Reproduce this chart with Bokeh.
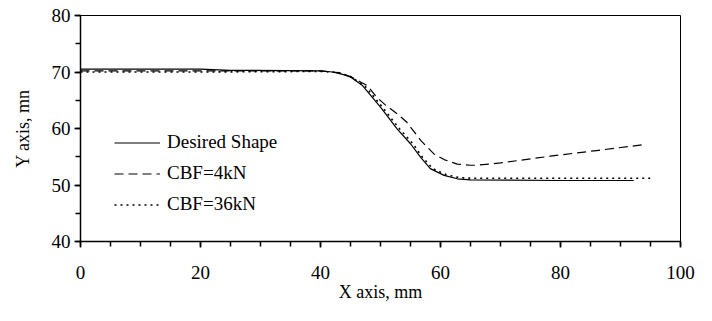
from bokeh.plotting import figure
from bokeh.models import Range1d, FixedTicker, Legend, LegendItem
from bokeh.embed import file_html
from bokeh.resources import INLINE

# ---- data ----
desired_x = [0, 20, 25, 40, 42, 44, 45, 47, 50, 52.8, 55, 56.7, 58.3, 60.6, 62.8, 65, 80, 92.2]
desired_y = [70.5, 70.5, 70.3, 70.2, 70.0, 69.5, 69.1, 67.6, 63.8, 59.9, 57.3, 54.9, 52.9, 51.7, 51.1, 50.9, 50.8, 50.8]

cbf4_x = [0, 20, 40, 43, 45, 47.8, 49.4, 51, 52.8, 54.4, 56.7, 58.9, 60.6, 62.8, 65, 66.1, 70, 78.3, 86, 93.6]
cbf4_y = [70.2, 70.2, 70.2, 69.9, 69.2, 67.6, 65.5, 64.0, 62.6, 61.1, 57.9, 55.5, 54.5, 53.7, 53.5, 53.5, 53.9, 55.1, 56.1, 57.1]

cbf36_x = [0, 20, 40, 43, 45, 47.5, 50.3, 53.2, 55.4, 57, 58.7, 61, 63.2, 65.5, 80, 95]
cbf36_y = [70.0, 70.0, 70.1, 69.9, 69.2, 67.4, 63.8, 59.9, 57.3, 54.9, 52.9, 51.8, 51.3, 51.2, 51.2, 51.2]

series_names = ["Desired Shape", "CBF=4kN", "CBF=36kN"]
x_ticks = [0, 20, 40, 60, 80, 100]
y_ticks = [40, 50, 60, 70, 80]

FONT = "'Liberation Serif', 'Times New Roman', serif"

p = figure(width=700, height=313, output_backend="svg", toolbar_location=None,
           x_range=Range1d(0, 100), y_range=Range1d(40, 80),
           min_border_left=80, min_border_right=20, min_border_top=15, min_border_bottom=72)

p.xgrid.visible = False
p.ygrid.visible = False
p.background_fill_color = "white"
p.border_fill_color = "white"
p.outline_line_color = "black"
p.outline_line_width = 1

p.xaxis.ticker = FixedTicker(ticks=x_ticks, minor_ticks=list(range(0, 101, 5)))
p.yaxis.ticker = FixedTicker(ticks=y_ticks, minor_ticks=list(range(40, 81, 5)))

for ax in (p.xaxis, p.yaxis):
    ax.axis_line_color = "black"
    ax.axis_line_width = 1.5
    ax.major_tick_line_color = "black"
    ax.major_tick_line_width = 1.5
    ax.minor_tick_line_color = "black"
    ax.minor_tick_line_width = 1.5
    ax.major_tick_in = 0
    ax.major_tick_out = 6
    ax.minor_tick_in = 0
    ax.minor_tick_out = 5
    ax.major_label_text_font = FONT
    ax.major_label_text_font_size = "19px"
    ax.major_label_text_color = "black"
    ax.axis_label_text_font = FONT
    ax.axis_label_text_font_size = "18px"
    ax.axis_label_text_font_style = "normal"
    ax.axis_label_text_color = "black"

p.xaxis.axis_label = "X axis, mm"
p.yaxis.axis_label = "Y axis, mn"
p.xaxis.major_label_standoff = 18
p.xaxis.axis_label_standoff = 0
p.yaxis.major_label_standoff = 4
p.yaxis.axis_label_standoff = 16

r1 = p.line(desired_x, desired_y, line_color="black", line_width=1.2)
r2 = p.line(cbf4_x, cbf4_y, line_color="black", line_width=1.2, line_dash="9 5")
r3 = p.line(cbf36_x, cbf36_y, line_color="black", line_width=1.6, line_dash="2 4")

legend = Legend(items=[LegendItem(label=series_names[0], renderers=[r1]),
                       LegendItem(label=series_names[1], renderers=[r2]),
                       LegendItem(label=series_names[2], renderers=[r3])],
                location=(34, 26), orientation="vertical",
                padding=0, margin=0, spacing=9,
                glyph_width=46, glyph_height=21, label_height=21,
                label_standoff=7, border_line_color=None,
                background_fill_alpha=0,
                label_text_font=FONT, label_text_font_size="19px",
                label_text_color="black")
p.add_layout(legend, "center")

open("out.html", "w").write(file_html(p, INLINE))
